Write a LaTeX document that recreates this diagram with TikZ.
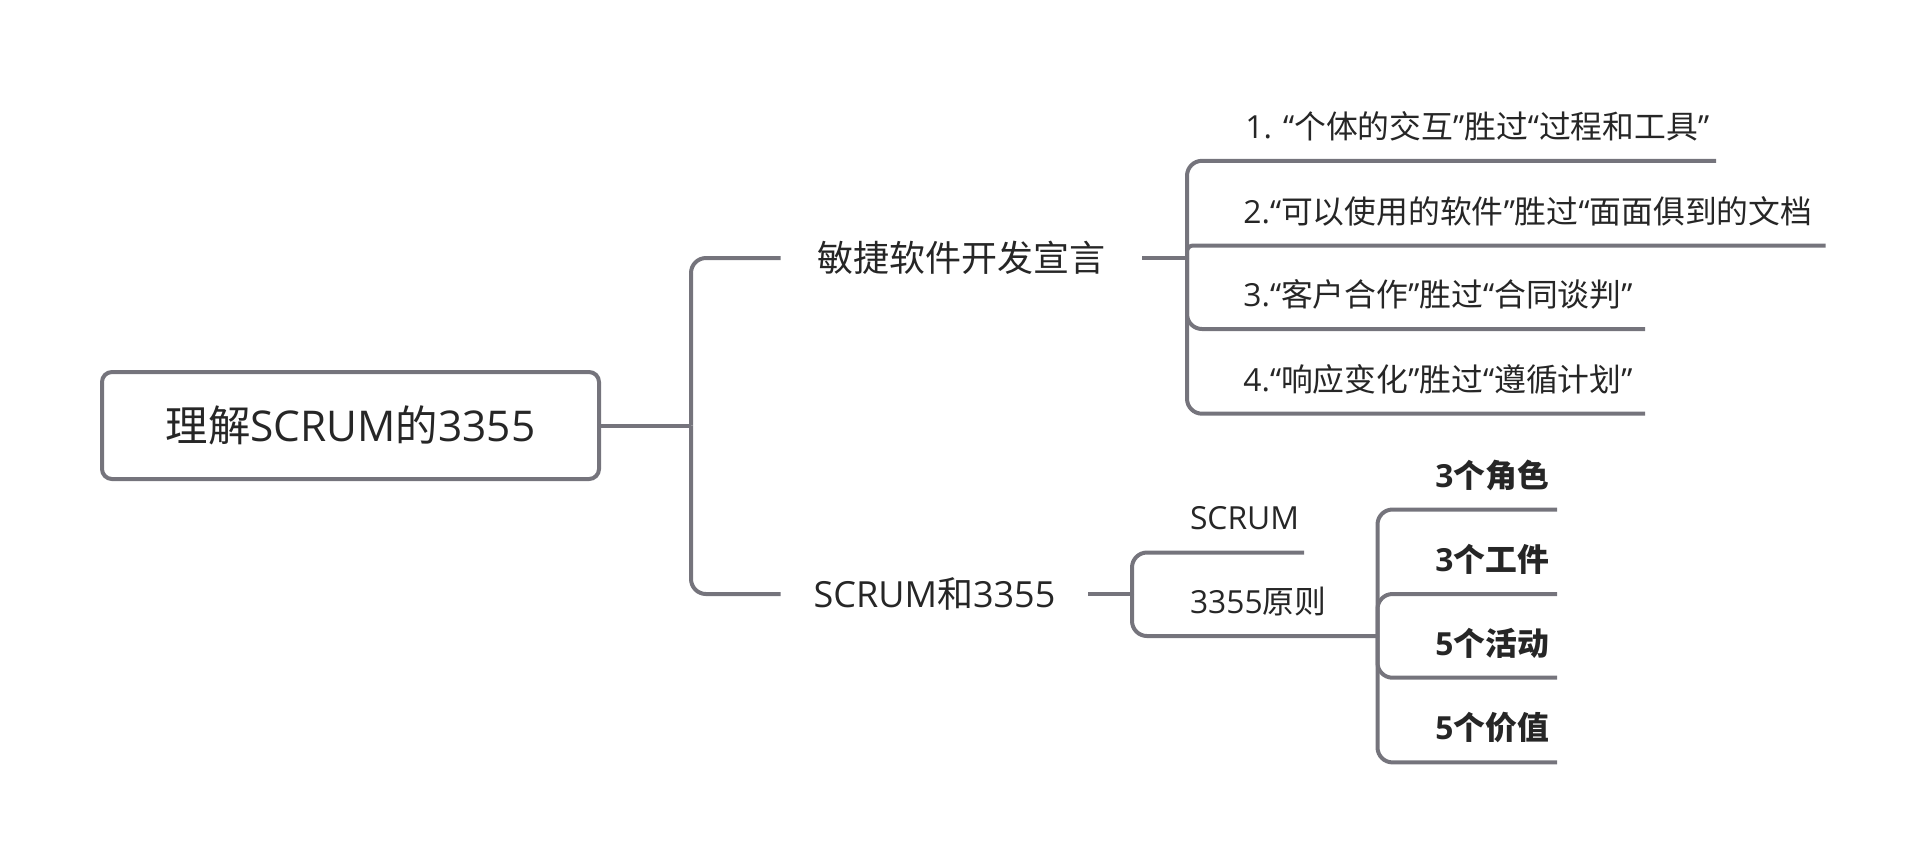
\documentclass[tikz,border=0pt]{standalone}
\usepackage{fontspec}
\setmainfont{Open Sans}
\newfontfamily\cjk{Noto Sans CJK SC}
\newcommand\zh[1]{{\cjk #1}}
\definecolor{ln}{HTML}{75747C}
\definecolor{tx}{HTML}{262626}
\begin{document}
\begin{tikzpicture}[x=0.5pt,y=-0.5pt,
  conn/.style={draw=ln, line width=2pt, rounded corners=7.5pt},
  rootbox/.style={draw=ln, line width=2pt, rounded corners=5pt, minimum width=248.5pt, minimum height=53.5pt, inner sep=0pt, font=\fontsize{21.2}{25}\selectfont, text=tx},
  maintopic/.style={inner sep=0pt, minimum height=20pt, font=\fontsize{18}{22}\selectfont, text=tx},
  subtopic/.style={inner sep=0pt, anchor=west, font=\fontsize{15.9}{19}\selectfont, text=tx},
  boldtopic/.style={inner sep=0pt, anchor=west, font=\fontsize{15.9}{19}\selectfont\bfseries, text=tx},
]
\useasboundingbox (0,0) rectangle (1925,864);

% topics
\node[rootbox] (root) at (350.5,425.5) {\zh{理解}SCRUM\zh{的}3355};
\node[maintopic, minimum width=180.5pt] (m1) at (961.5,258) {\zh{敏捷软件开发宣言}};
\node[maintopic, minimum width=153.5pt] (m2) at (934.5,594) {SCRUM\zh{和}3355};

\node[subtopic] (s1) at (1245,126.5) {1. “\zh{个体的交互}”\zh{胜过}“\zh{过程和工具}”};
\node[subtopic] (s2) at (1243,211) {2.“\zh{可以使用的软件}”\zh{胜过}“\zh{面面俱到的文档}};
\node[subtopic] (s3) at (1243,294.6) {3.“\zh{客户合作}”\zh{胜过}“\zh{合同谈判}”};
\node[subtopic] (s4) at (1243,379) {4.“\zh{响应变化}”\zh{胜过}“\zh{遵循计划}”};

\node[subtopic] (s5) at (1189.6,518) {SCRUM};
\node[subtopic] (s6) at (1189.6,601.5) {3355\zh{原则}};

\node[boldtopic] (b1) at (1435,475) {3\zh{个角色}};
\node[boldtopic] (b2) at (1435,559.5) {3\zh{个工件}};
\node[boldtopic] (b3) at (1435,643.2) {5\zh{个活动}};
\node[boldtopic] (b4) at (1435,727.9) {5\zh{个价值}};

% junctions and underline ends
\coordinate (j0) at (691,425.5);
\coordinate (j1) at (1187,258);
\coordinate (j2) at (1132,594);
\coordinate (j3) at (1377.5,636);
\coordinate (e1) at (1716,160.8);
\coordinate (e2) at (1825.6,245.5);
\coordinate (e3) at (1645,329);
\coordinate (e4) at (1645,413.7);
\coordinate (e5) at (1304,552.5);
\coordinate (e7) at (1557,509.5);
\coordinate (e8) at (1557,594);
\coordinate (e9) at (1557,677.7);
\coordinate (e10) at (1557,762.4);

% connectors
\draw[conn] (root.east) -- (j0);
\draw[conn] (j0) |- (m1.west);
\draw[conn] (j0) |- (m2.west);

\draw[conn] (m1.east) -- (j1);
\draw[conn] (j1) |- (e1);
\draw[conn, rounded corners=3pt] (j1) |- (e2);
\draw[conn] (j1) |- (e3);
\draw[conn] (j1) |- (e4);

\draw[conn] (m2.east) -- (j2);
\draw[conn] (j2) |- (e5);
\draw[conn] (j2) |- (j3);

\draw[conn] (j3) |- (e7);
\draw[conn] (j3) |- (e8);
\draw[conn] (j3) |- (e9);
\draw[conn] (j3) |- (e10);
\end{tikzpicture}
\end{document}
